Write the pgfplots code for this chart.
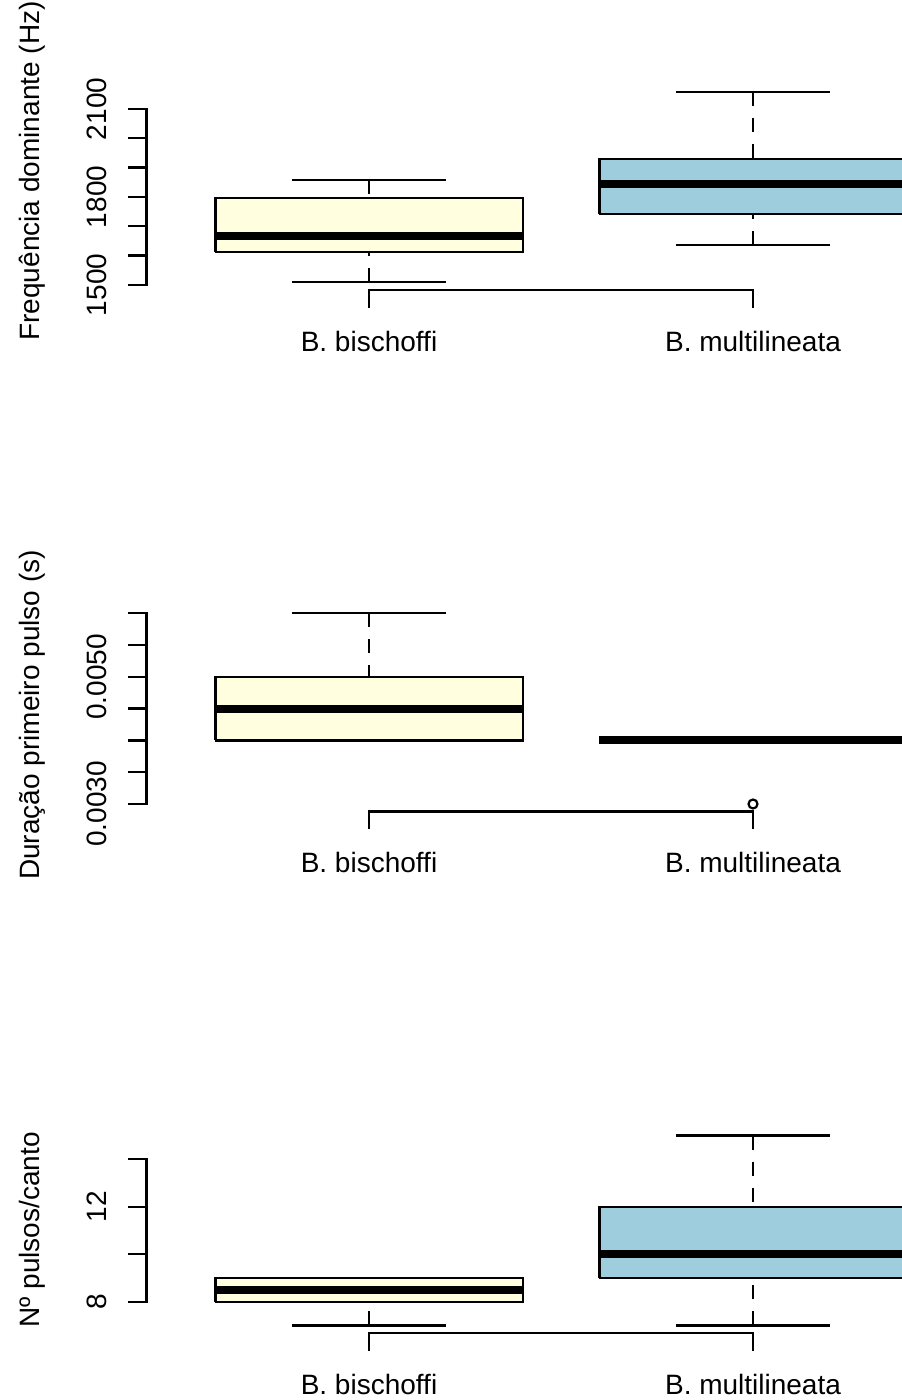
\documentclass[border=0pt]{standalone}
\usepackage{pgfplots}
\pgfplotsset{compat=1.18}
\usepackage{fontspec}
\setmainfont{Liberation Sans}
\definecolor{byellow}{RGB}{255,255,224}
\definecolor{bblue}{RGB}{158,206,222}
\newcommand{\rf}{\fontsize{14}{16.8}\selectfont}
\tikzset{brk/.style={line width=1.15pt, line cap=rect}}
\pgfplotsset{
  rbox/.style={
    scale only axis, anchor=south west, clip=false,
    width=377.25pt,
    xmin=0.42057, xmax=2.38542,
    axis x line=none, axis y line=left,
    y axis line style={-, line width=1.15pt, line cap=rect},
    tick align=outside, major tick length=9pt,
    ytick style={line width=1.15pt, black},
    minor tick num=0,
    scaled y ticks=false,
    yticklabel style={font=\rf, xshift=-11pt, rotate=90, anchor=base, inner sep=0pt},
    ylabel style={font=\rf, anchor=base},
    enlargelimits=false,
  },
  boxs/.style={draw=black, line width=1.1pt, line join=miter},
  meds/.style={black, line width=4pt},
  whis/.style={black, line width=1.1pt, dash pattern=on 7pt off 6pt},
  caps/.style={black, line width=1.1pt},
}
\begin{document}
\begin{tikzpicture}
% ---------- Panel 1 ----------
\begin{axis}[rbox, at={(73.25pt,557.5pt)}, height=88pt,
  ymin=1500, ymax=2100,
  ytick={1500,1600,1700,1800,1900,2000,2100},
  yticklabels={1500,,,1800,,,2100},
  ylabel={Frequência dominante (Hz)},
  ylabel style={at={([xshift=-53.25pt]rel axis cs:0,0.6477)}},
]
% B. bischoffi: 1511 / 1613.5 / 1667 / 1795.6 / 1858
\addplot[whis] coordinates {(1,1511) (1,1613.5)};
\addplot[whis] coordinates {(1,1858) (1,1795.6)};
\addplot[caps] coordinates {(0.8,1511) (1.2,1511)};
\addplot[caps] coordinates {(0.8,1858) (1.2,1858)};
\addplot[boxs, fill=byellow] coordinates {(0.6,1613.5) (1.4,1613.5) (1.4,1795.6) (0.6,1795.6) (0.6,1613.5)};
\addplot[meds] coordinates {(0.6,1667) (1.4,1667)};
% B. multilineata: 1636 / 1742 / 1844 / 1928.5 / 2159
\addplot[whis] coordinates {(2,1636) (2,1742)};
\addplot[whis] coordinates {(2,2159) (2,1928.5)};
\addplot[caps] coordinates {(1.8,1636) (2.2,1636)};
\addplot[caps] coordinates {(1.8,2159) (2.2,2159)};
\addplot[boxs, fill=bblue] coordinates {(1.6,1742) (2.4,1742) (2.4,1928.5) (1.6,1928.5) (1.6,1742)};
\addplot[meds] coordinates {(1.6,1844) (2.4,1844)};
\draw[brk] (axis cs:1,1482) -- (axis cs:2,1482);
\draw[brk] (axis cs:1,1482) -- ++(0pt,-8.25pt);
\draw[brk] (axis cs:2,1482) -- ++(0pt,-8.25pt);
\node[font=\rf, anchor=base] at ([yshift=-30.65pt]axis cs:1,1482) {B. bischoffi};
\node[font=\rf, anchor=base] at ([yshift=-30.65pt]axis cs:2,1482) {B. multilineata};
\end{axis}
% ---------- Panel 2 (values in ms = s x 1000; tick labels in s) ----------
\begin{axis}[rbox, at={(73.25pt,298pt)}, height=95.35pt,
  ymin=3, ymax=6,
  ytick={3,3.5,4,4.5,5,5.5,6},
  yticklabels={0.0030,,,,0.0050,,},
  ylabel={Duração primeiro pulso (s)},
  ylabel style={at={([xshift=-53.25pt]rel axis cs:0,0.4667)}},
]
% B. bischoffi: 4.0 / 4.0 / 4.5 / 5.0 / 6.0
\addplot[whis] coordinates {(1,6.0) (1,5.0)};
\addplot[caps] coordinates {(0.8,4.0) (1.2,4.0)};
\addplot[caps] coordinates {(0.8,6.0) (1.2,6.0)};
\addplot[boxs, fill=byellow] coordinates {(0.6,4.0) (1.4,4.0) (1.4,5.0) (0.6,5.0) (0.6,4.0)};
\addplot[meds] coordinates {(0.6,4.5) (1.4,4.5)};
% B. multilineata: all 4.0, outlier 3.0
\addplot[caps] coordinates {(1.8,4.0) (2.2,4.0)};
\addplot[boxs, fill=bblue] coordinates {(1.6,4.0) (2.4,4.0) (2.4,4.0) (1.6,4.0) (1.6,4.0)};
\addplot[meds] coordinates {(1.6,4.0) (2.4,4.0)};
\addplot[only marks, mark=o, mark size=2.25pt, mark options={solid, line width=1.1pt, draw=black}] coordinates {(2,3.0)};
\draw[brk] (axis cs:1,2.88) -- (axis cs:2,2.88);
\draw[brk] (axis cs:1,2.88) -- ++(0pt,-8.25pt);
\draw[brk] (axis cs:2,2.88) -- ++(0pt,-8.25pt);
\node[font=\rf, anchor=base] at ([yshift=-30.65pt]axis cs:1,2.88) {B. bischoffi};
\node[font=\rf, anchor=base] at ([yshift=-30.65pt]axis cs:2,2.88) {B. multilineata};
\end{axis}
% ---------- Panel 3 ----------
\begin{axis}[rbox, at={(73.25pt,49.15pt)}, height=71.2pt,
  ymin=8, ymax=14,
  ytick={8,10,12,14},
  yticklabels={8,,12,},
  ylabel={Nº pulsos/canto},
  ylabel style={at={([xshift=-53.25pt]rel axis cs:0,0.5035)}},
]
% B. bischoffi: 7 / 8 / 8.5 / 9 / 9
\addplot[whis] coordinates {(1,7) (1,8)};
\addplot[caps] coordinates {(0.8,7) (1.2,7)};
\addplot[caps] coordinates {(0.8,9) (1.2,9)};
\addplot[boxs, fill=byellow] coordinates {(0.6,8) (1.4,8) (1.4,9) (0.6,9) (0.6,8)};
\addplot[meds] coordinates {(0.6,8.5) (1.4,8.5)};
% B. multilineata: 7 / 9 / 10 / 12 / 15
\addplot[whis] coordinates {(2,7) (2,9)};
\addplot[whis] coordinates {(2,15) (2,12)};
\addplot[caps] coordinates {(1.8,7) (2.2,7)};
\addplot[caps] coordinates {(1.8,15) (2.2,15)};
\addplot[boxs, fill=bblue] coordinates {(1.6,9) (2.4,9) (2.4,12) (1.6,12) (1.6,9)};
\addplot[meds] coordinates {(1.6,10) (2.4,10)};
\draw[brk] (axis cs:1,6.68) -- (axis cs:2,6.68);
\draw[brk] (axis cs:1,6.68) -- ++(0pt,-8.25pt);
\draw[brk] (axis cs:2,6.68) -- ++(0pt,-8.25pt);
\node[font=\rf, anchor=base] at ([yshift=-30.65pt]axis cs:1,6.68) {B. bischoffi};
\node[font=\rf, anchor=base] at ([yshift=-30.65pt]axis cs:2,6.68) {B. multilineata};
\end{axis}
\pgfresetboundingbox
\useasboundingbox (0pt,0pt) rectangle (450.5pt,700pt);
\end{tikzpicture}
\end{document}
